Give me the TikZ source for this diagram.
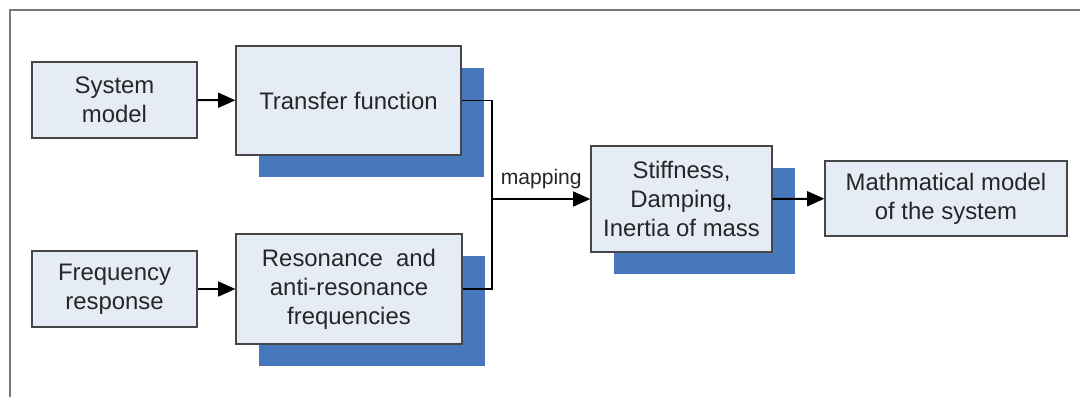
\documentclass[tikz,border=0pt]{standalone}
\usepackage{fontspec}
\setmainfont{Liberation Sans}
\usepackage{tikz}
\usetikzlibrary{arrows.meta,shapes,positioning,shadows,calc}
\usepackage{xcolor}
\definecolor{boxfill}{RGB}{230,236,246}
\definecolor{boxline}{RGB}{70,70,70}
\definecolor{shadeblue}{RGB}{72,120,188}
\definecolor{framegray}{RGB}{120,120,120}
\tikzstyle{arrow} = [line width=1.4pt,-{Triangle[length=0.43cm,width=0.37cm]}]
\tikzstyle{link} = [line width=1.4pt]
\tikzstyle{plainbox} = [rectangle, draw=boxline, fill=boxfill, line width=0.8pt, align=center, text=black!85, font=\fontsize{17}{20.5}\selectfont]
\tikzstyle{stackbox} = [plainbox, general shadow={shadow xshift=0.575cm, shadow yshift=-0.55cm, fill=shadeblue, opacity=1}]

\begin{document}
\begin{tikzpicture}[x=0.025cm, y=-0.025cm]
\useasboundingbox (0,0) rectangle (1080,397);
% frame
\draw[framegray, line width=1.5pt] (10,397) -- (10,10) -- (1080,10);

% inputs
\node[plainbox, minimum width=4.125cm, minimum height=1.9cm] (sys) at (114.5,100) {System\\model};
\node[plainbox, minimum width=4.125cm, minimum height=1.9cm] (freq) at (114.5,289) {Frequency\\response};

% intermediate results
\node[stackbox, minimum width=5.625cm, minimum height=2.725cm] (tf) at (348.5,100.5) {Transfer function};
\node[stackbox, minimum width=5.65cm, minimum height=2.75cm] (res) at (349,289) {Resonance\ \ and\\anti-resonance\\frequencies};

% parameters and final model
\node[stackbox, minimum width=4.525cm, minimum height=2.65cm] (par) at (681.5,199) {Stiffness,\\Damping,\\Inertia of mass};
\node[plainbox, minimum width=6.05cm, minimum height=1.875cm] (mm) at (946,198.5) {Mathmatical model\\of the system};

\coordinate (join) at (492,199);

\draw[arrow] (sys) -- (tf);
\draw[arrow] (freq) -- (res);
\draw[link] (tf.east) -| (join);
\draw[link] (res.east) -| (join);
\draw[arrow] (join) -- node[above=3pt, font=\fontsize{15}{18}\selectfont, text=black!85] (maplbl) {mapping} (par.west);
\draw[arrow] (par) -- (mm);
\end{tikzpicture}
\end{document}
